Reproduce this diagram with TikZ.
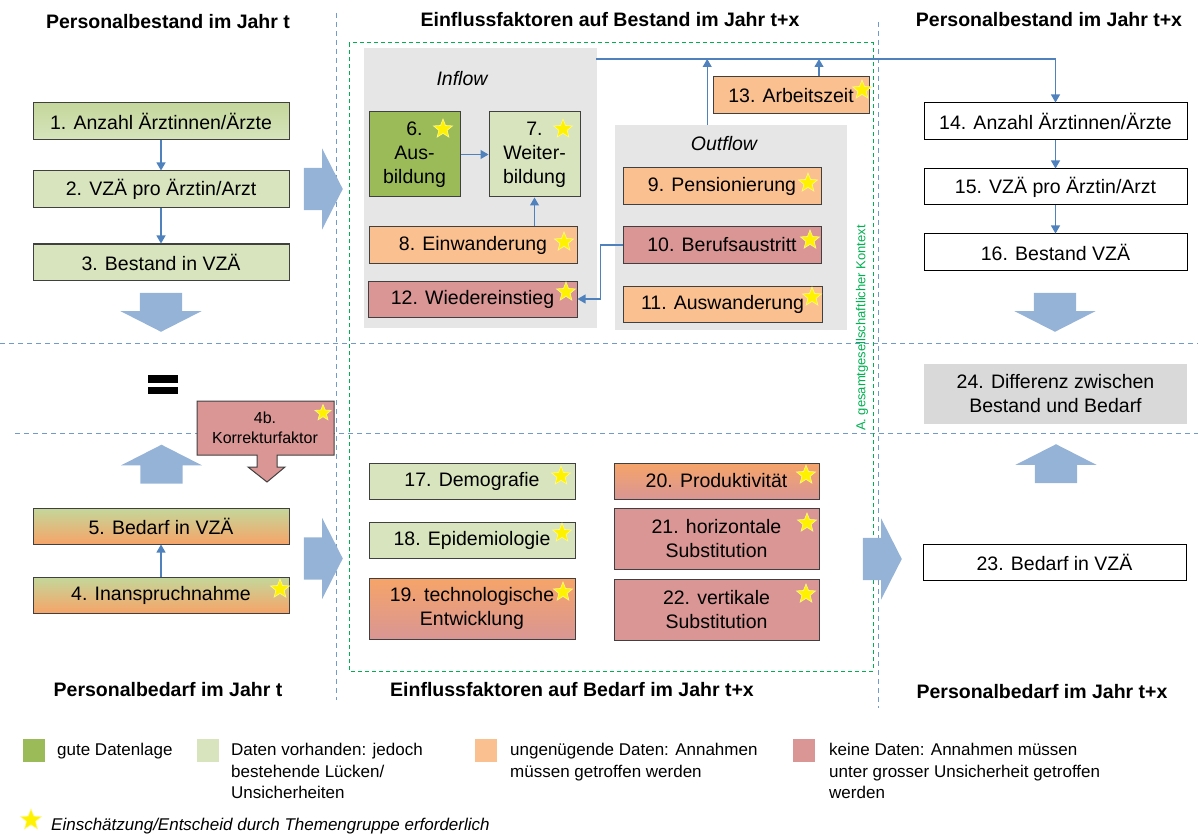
\documentclass[tikz,border=0pt]{standalone}
\usepackage{fontspec}
\setmainfont{Liberation Sans}
\usetikzlibrary{arrows.meta, shapes.geometric, shapes.arrows, positioning}
\definecolor{goodgreen}{RGB}{155,187,89}
\definecolor{palegreen}{RGB}{215,228,189}
\definecolor{midgreen}{RGB}{196,215,155}
\definecolor{lowdata}{RGB}{250,192,144}
\definecolor{nodata}{RGB}{217,150,148}
\definecolor{deeporange}{RGB}{246,164,104}
\definecolor{flowgray}{RGB}{230,230,230}
\definecolor{diffgray}{RGB}{217,217,217}
\definecolor{fatblue}{RGB}{149,179,215}
\definecolor{linkblue}{RGB}{79,129,189}
\definecolor{contextgreen}{RGB}{0,176,80}
\definecolor{frameline}{RGB}{64,64,64}

\newcommand{\bxfont}{\fontsize{19.5}{24}\selectfont}
\newcommand{\hdfont}{\fontsize{19.5}{24}\selectfont\bfseries}
\newcommand{\lgfont}{\fontsize{17}{21.5}\selectfont}

\tikzset{
  factor/.style={draw=frameline, line width=1pt, align=center, inner sep=0pt, font=\bxfont},
  target/.style={factor, draw=black, fill=white, minimum width=263pt, minimum height=37pt},
  rating/.style={star, star points=5, star point ratio=2.3, minimum size=20pt, inner sep=0pt,
    fill=yellow, draw=yellow!45!white, line width=0.6pt},
  bigarrow/.style={single arrow, fill=fatblue, draw=none, inner sep=0pt, inner ysep=21pt,
    minimum height=39pt, single arrow head extend=19.5pt, single arrow tip angle=126, anchor=tip},
  link/.style={draw=linkblue, line width=1.1pt, -{Triangle[length=8pt,width=9pt]}},
  zone/.style={draw=linkblue!80, line width=1pt, dash pattern=on 5pt off 4pt},
  heading/.style={font=\hdfont},
  legend/.style={font=\lgfont, align=left, anchor=north west, inner sep=0pt},
  swatch/.style={anchor=north west, minimum width=22pt, minimum height=23pt, inner sep=0pt},
  flowbg/.style={fill=flowgray, anchor=north west, inner sep=0pt},
}

\begin{document}
\begin{tikzpicture}[x=1pt, y=-1pt]
\useasboundingbox (0,0) rectangle (1198,834);

% zones and context frame
\draw[zone] (336,13) -- (336,700);
\draw[zone] (878,22) -- (878,708);
\draw[zone] (0,343) -- (1198,343);
\draw[zone] (15,433) -- (1198,433);
\draw[contextgreen, line width=1pt, dash pattern=on 4pt off 3pt] (349,43) rectangle (873,671);
\node[rotate=90, text=contextgreen, font=\fontsize{13}{15}\selectfont] (ctx) at (862,328) {A. gesamtgesellschaftlicher Kontext};

% headings
\node[heading] (t1) at (168,22) {Personalbestand im Jahr t};
\node[heading] (t2) at (610,20) {Einflussfaktoren auf Bestand im Jahr t+x};
\node[heading] (t3) at (1049,20) {Personalbestand im Jahr t+x};
\node[heading] (t4) at (168,690) {Personalbedarf im Jahr t};
\node[heading] (t5) at (572,690) {Einflussfaktoren auf Bedarf im Jahr t+x};
\node[heading] (t6) at (1042,692) {Personalbedarf im Jahr t+x};

% stock in year t
\node[factor, top color=midgreen, bottom color=palegreen, minimum width=256pt, minimum height=37pt] (b1) at (161,121.5) {1. Anzahl Ärztinnen/Ärzte};
\node[factor, fill=palegreen, minimum width=256pt, minimum height=37pt, below=30pt of b1] (b2) {2. VZÄ pro Ärztin/Arzt};
\node[factor, fill=palegreen, minimum width=256pt, minimum height=36pt, below=35pt of b2] (b3) {3. Bestand in VZÄ};
\draw[link] (b1) -- (b2);
\draw[link] (b2) -- (b3);

% demand in year t
\fill (148,375) rectangle (178,383);
\fill (148,387) rectangle (178,394);
\filldraw[fill=nodata, draw=frameline, line width=1pt] (197,401) -- (334,401) -- (334,455) -- (277,455) -- (277,467) -- (285,467) -- (267,482) -- (248,467) -- (257,467) -- (257,455) -- (197,455) -- cycle;
\node[font=\fontsize{16}{20}\selectfont, align=center, inner sep=0pt] (k4b) at (265,428) {4b.\\Korrekturfaktor};
\node[factor, top color=midgreen, bottom color=deeporange, minimum width=256pt, minimum height=36pt] (b5) at (161,526) {5. Bedarf in VZÄ};
\node[factor, top color=midgreen, bottom color=deeporange, minimum width=256pt, minimum height=36pt, below=32pt of b5] (b4) {4. Inanspruchnahme};
\draw[link] (b4) -- (b5);

% inflow / outflow
\node[flowbg, minimum width=233pt, minimum height=280pt] (inflow) at (364,48) {};
\node[font=\bxfont\itshape] (inlbl) at (462,79) {Inflow};
\node[flowbg, minimum width=232pt, minimum height=205pt] (outflow) at (615,125) {};
\node[font=\bxfont\itshape] (outlbl) at (724,144) {Outflow};

\node[factor, fill=goodgreen, minimum width=91pt, minimum height=85pt] (b6) at (414.5,154.5) {6.\\Aus-\\bildung};
\node[factor, fill=palegreen, minimum width=91pt, minimum height=85pt] (b7) at (534.5,154.5) {7.\\Weiter-\\bildung};
\node[factor, fill=lowdata, minimum width=208pt, minimum height=36pt] (b8) at (473,245) {8. Einwanderung};
\node[factor, fill=nodata, minimum width=209pt, minimum height=36pt] (b12) at (472.5,299) {12. Wiedereinstieg};
\node[factor, fill=lowdata, minimum width=198pt, minimum height=37pt] (b9) at (722,186.5) {9. Pensionierung};
\node[factor, fill=nodata, minimum width=198pt, minimum height=36pt] (b10) at (722,245) {10. Berufsaustritt};
\node[factor, fill=lowdata, minimum width=199pt, minimum height=36pt] (b11) at (722.5,304) {11. Auswanderung};
\node[factor, fill=lowdata, minimum width=156pt, minimum height=37pt] (b13) at (791,95.5) {13. Arbeitszeit};

\draw[link] (b6) -- (b7);
\draw[link] (b8.north -| b7.south) -- (b7.south);
\draw[link] (b10.west) -- ++(-22,0) |- (b12.east);

% stock in year t+x
\node[target] (b14) at (1055.5,121.5) {14. Anzahl Ärztinnen/Ärzte};
\node[target, minimum height=36pt, below=28pt of b14] (b15) {15. VZÄ pro Ärztin/Arzt};
\node[target, minimum height=36pt, below=28pt of b15] (b16) {16. Bestand VZÄ};
\draw[link] (b14) -- (b15);
\draw[link] (b15) -- (b16);

\coordinate (bus) at (596,59);
\coordinate (outtap) at ([xshift=-24pt]outflow.north);
\coordinate (worktap) at ([xshift=28pt]b13.north);
\draw[link] (bus) -| (b14.north);
\draw[link] (outtap) -- (outtap |- bus);
\draw[link] (worktap) -- (worktap |- bus);

\node[factor, draw=none, fill=diffgray, minimum width=263pt, minimum height=60pt] (b24) at (1055.5,394) {24. Differenz zwischen\\Bestand und Bedarf};
\node[target, minimum height=36pt] (b23) at (1054.5,562) {23. Bedarf in VZÄ};

% demand factors
\node[factor, fill=palegreen, minimum width=206pt, minimum height=36pt] (b17) at (472,481) {17. Demografie};
\node[factor, fill=palegreen, minimum width=206pt, minimum height=36pt] (b18) at (472,540) {18. Epidemiologie};
\node[factor, top color=deeporange, bottom color=nodata, minimum width=206pt, minimum height=61pt] (b19) at (472,608.5) {19. technologische\\Entwicklung};
\node[factor, top color=deeporange, bottom color=nodata, minimum width=205pt, minimum height=36pt] (b20) at (716.5,481) {20. Produktivität};
\node[factor, fill=nodata, minimum width=205pt, minimum height=61pt] (b21) at (716.5,538.5) {21. horizontale\\Substitution};
\node[factor, fill=nodata, minimum width=205pt, minimum height=61pt] (b22) at (716.5,609.5) {22. vertikale\\Substitution};

% big arrows
\node[bigarrow, rotate=-90] (down1) at (161,332) {};
\node[bigarrow] (right1) at (343,189) {};
\node[bigarrow, rotate=90] (up1) at (161.5,444.5) {};
\node[bigarrow] (right2) at (343,558.5) {};
\node[bigarrow] (right3) at (902,559) {};
\node[bigarrow, rotate=-90] (down2) at (1055,332) {};
\node[bigarrow, rotate=90] (up2) at (1056,444) {};

% stars
\foreach \sx/\sy [count=\i] in {443/129, 563/129, 564/242, 566/292, 808/183, 810/240, 812/297, 862/90,
    561/476, 562/533, 563/592, 806/475, 807/523, 806/594, 280/589}
  \node[rating] (star\i) at (\sx,\sy) {};
\node[rating, minimum size=17pt] (star4b) at (323,413) {};

% legend
\node[swatch, fill=goodgreen] (sw1) at (23,739) {};
\node[legend] (lg1) at (57,743) {gute Datenlage};
\node[swatch, fill=palegreen] (sw2) at (197,739) {};
\node[legend] (lg2) at (231,743) {Daten vorhanden: jedoch\\bestehende Lücken/\\Unsicherheiten};
\node[swatch, fill=lowdata] (sw3) at (475,739) {};
\node[legend] (lg3) at (510,743) {ungenügende Daten: Annahmen\\müssen getroffen werden};
\node[swatch, fill=nodata] (sw4) at (793,739) {};
\node[legend] (lg4) at (829,743) {keine Daten: Annahmen müssen\\unter grosser Unsicherheit getroffen\\werden};
\node[rating, minimum size=22pt] (lgstar) at (31,820) {};
\node[legend, anchor=base west, font=\lgfont\itshape] (lg5) at (51,830) {Einschätzung/Entscheid durch Themengruppe erforderlich};
\end{tikzpicture}
\end{document}
